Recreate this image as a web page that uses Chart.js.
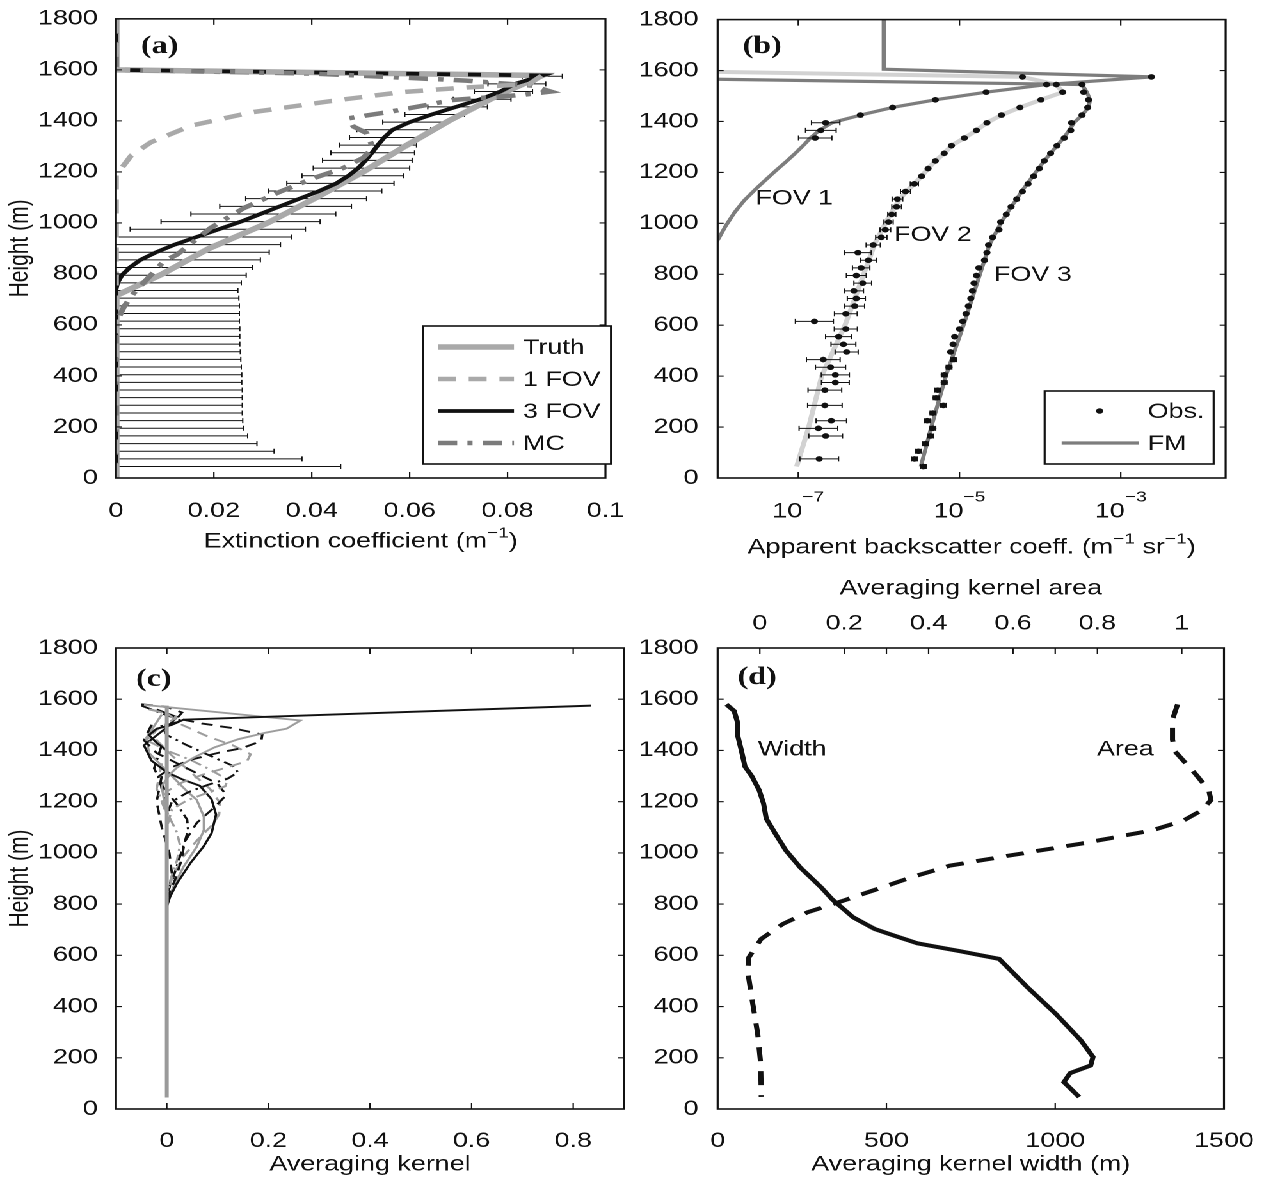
<!DOCTYPE html>
<html>
<head>
<meta charset="utf-8">
<title>Lidar retrieval figure</title>
<script src="https://cdn.jsdelivr.net/npm/chart.js@4.4.1/dist/chart.umd.min.js"></script>
<style>
html,body{margin:0;padding:0;background:#ffffff;}
body{width:1269px;height:1179px;overflow:hidden;position:relative;}
#stage{position:absolute;left:0;top:0;height:1179px;transform-origin:0 0;}
#stage canvas{position:absolute;}
</style>
</head>
<body>
<div id="stage"></div>
<script>
// ================= DATA =================
// shared height axis (m)
const heightTicks = [0,200,400,600,800,1000,1200,1400,1600,1800];

// ---- panel (a): extinction coefficient (1/m) ----
const extTicks = [0,0.02,0.04,0.06,0.08,0.1];
const extTickLabels = ['0','0.02','0.04','0.06','0.08','0.1'];
const seriesNamesA = ['Truth','1 FOV','3 FOV','MC'];
const truthH = [1800,1600,1578,1500,1400,1300,1200,1100,1000,900,800,722,715,0];
const truthX = [0,0,0.0871,0.078,0.068,0.059,0.0505,0.041,0.031,0.019,0.0095,0.0008,0,0];
const fov1H = [1800,1600,1578,1544,1531,1512,1479,1433,1381,1316,1264,1186,0];
const fov1X = [0,0,0.087,0.0844,0.0715,0.058,0.0444,0.0275,0.0153,0.0071,0.0031,0,0];
const fov3H = [1800,1600,1578,1545,1515,1485,1455,1425,1395,1365,1335,1305,1275,1245,1215,1185,1155,1125,1095,1065,1035,1005,975,945,915,885,855,825,795,765,740,0];
const fov3X = [0,0,0.0871,0.0815,0.0785,0.0745,0.0695,0.0645,0.0600,0.0565,0.0548,0.0535,0.0523,0.0510,0.0495,0.0475,0.0450,0.0415,0.0375,0.0335,0.0295,0.0255,0.021,0.0165,0.012,0.0082,0.005,0.0028,0.0012,0.0003,0,0];
const mcH = [1800,1600,1585,1570,1558,1538,1515,1502,1482,1457,1436,1410,1378,1352,1295,1255,1215,1175,1123,1058,980,928,876,850,726,674,635,615,0];
const mcX = [0,0,0.041,0.058,0.0715,0.0851,0.0888,0.0831,0.0688,0.062,0.056,0.0475,0.0485,0.0512,0.0525,0.0505,0.0464,0.0403,0.0336,0.0261,0.0193,0.0159,0.0125,0.0098,0.0037,0.0017,0.0007,0,0];
// 3 FOV uncertainty bars
const errH = [45,75,105,135,165,195,225,255,285,315,345,375,405,435,465,495,525,555,585,615,645,675,705,735,765,795,825,855,885,915,945,975,1005,1035,1065,1095,1125,1155,1185,1215,1245,1275,1305,1335,1365,1395,1425,1455,1485,1515,1545,1575];
const errLeft = [-0.0459,-0.038,-0.0323,-0.0288,-0.0269,-0.0261,-0.0259,-0.0258,-0.0258,-0.0258,-0.0258,-0.0257,-0.0257,-0.0256,-0.0255,-0.0254,-0.0253,-0.0253,-0.0253,-0.0252,-0.0252,-0.0252,-0.0251,-0.0249,-0.0250,-0.0242,-0.0223,-0.0195,-0.0149,-0.0096,-0.0029,0.0029,0.0092,0.0153,0.0212,0.0265,0.0311,0.0349,0.0380,0.0403,0.0422,0.0439,0.0456,0.0477,0.0492,0.0545,0.0590,0.0637,0.0689,0.0732,0.0760,0.0830];
const errRight = [0.0459,0.038,0.0323,0.0288,0.0269,0.0261,0.0259,0.0258,0.0258,0.0258,0.0258,0.0257,0.0257,0.0256,0.0255,0.0254,0.0253,0.0253,0.0253,0.0252,0.0252,0.0252,0.0251,0.0249,0.0256,0.0266,0.0279,0.0295,0.0313,0.0336,0.0359,0.0387,0.0417,0.0449,0.0481,0.0512,0.0543,0.0568,0.0588,0.0600,0.0605,0.0610,0.0614,0.0624,0.0643,0.0673,0.0712,0.0759,0.0807,0.0851,0.0878,0.0912];

// ---- panel (b): apparent backscatter, values as log10 ----
const logTicks = [1e-7,1e-5,1e-3];
const logTickExp = ['\u22127','\u22125','\u22123'];
const seriesNamesB = ['Obs.','FM'];
const fovLabelText = ['FOV 1','FOV 2','FOV 3'];
const fovLabelLog = [-7.05,-5.33,-4.09];
const fovLabelH = [1097,953,797];
const fov1ObsH = [1575,1545,1515,1485,1455,1425,1395,1365,1335];
const fov1ObsLog = [-2.62,-3.92,-4.67,-5.30,-5.83,-6.23,-6.66,-6.72,-6.79];
const fov1Err = [0,0,0,0,0,0,0.176,0.19,0.207];
const fov2ObsH = [1575,1545,1515,1485,1455,1425,1395,1365,1335,1305,1275,1245,1215,1185,1155,1125,1095,1065,1035,1005,975,945,915,885,855,825,795,765,735,705,675,645,615,585,555,525,495,465,435,405,375,345,285,225,195,165,75];
const fov2ObsLog = [-4.22,-3.80,-3.72,-3.99,-4.25,-4.48,-4.66,-4.79,-4.94,-5.10,-5.19,-5.30,-5.39,-5.47,-5.56,-5.67,-5.77,-5.78,-5.84,-5.88,-5.92,-5.97,-6.07,-6.26,-6.13,-6.22,-6.28,-6.20,-6.31,-6.28,-6.30,-6.41,-6.80,-6.41,-6.50,-6.44,-6.40,-6.69,-6.60,-6.54,-6.54,-6.67,-6.67,-6.59,-6.75,-6.66,-6.74];
const fov2Err = [0,0,0,0,0,0,0,0,0,0,0,0,0,0,0.05,0.062,0.066,0.06,0.05,0.057,0.066,0.07,0.088,0.165,0.10,0.108,0.123,0.11,0.119,0.112,0.123,0.141,0.236,0.143,0.161,0.154,0.143,0.209,0.187,0.174,0.172,0.209,0.214,0.189,0.24,0.209,0.24];
const fov3ObsH = [1545,1515,1485,1455,1425,1395,1365,1335,1305,1275,1245,1215,1185,1155,1125,1095,1065,1035,1005,975,945,915,885,855,825,795,765,735,705,675,645,615,585,555,525,495,465,435,405,375,345,315,285,255,225,195,165,135,105,75,45];
const fov3ObsLog = [-3.48,-3.46,-3.40,-3.41,-3.48,-3.61,-3.62,-3.70,-3.79,-3.87,-3.95,-4.01,-4.08,-4.15,-4.22,-4.29,-4.36,-4.42,-4.49,-4.51,-4.59,-4.64,-4.66,-4.69,-4.76,-4.79,-4.82,-4.84,-4.86,-4.89,-4.92,-4.96,-5.00,-5.06,-5.08,-5.11,-5.07,-5.13,-5.19,-5.19,-5.27,-5.29,-5.20,-5.33,-5.40,-5.33,-5.36,-5.42,-5.51,-5.56,-5.45];
const fov3Err = [0,0,0,0,0,0,0,0,0,0,0,0,0,0,0,0,0,0,0,0,0,0,0,0,0,0,0,0,0,0,0,0,0,0,0,0,0.035,0.035,0.035,0.035,0.035,0.035,0.035,0.035,0.035,0.035,0.035,0.035,0.035,0.035,0.035];
const fm1H = [1800,1605,1575,1545,1515,1485,1455,1425,1395,1365,1335,1305,1277,1245,1212,1175,1134,1090,1043,990,939,850];
const fm1Log = [-5.94,-5.94,-2.62,-3.92,-4.67,-5.30,-5.83,-6.23,-6.58,-6.74,-6.85,-6.94,-7.03,-7.14,-7.26,-7.39,-7.53,-7.67,-7.79,-7.90,-7.99,-8.2];
const fm2H = [1605,1575,1545,1515,1485,1455,1425,1395,1365,1335,1305,1275,1245,1215,1185,1155,1125,1095,1065,1035,1005,975,945,915,885,600,400,200,45];
const fm2Log = [-10,-4.22,-3.80,-3.72,-3.99,-4.25,-4.48,-4.66,-4.79,-4.94,-5.10,-5.19,-5.30,-5.39,-5.47,-5.56,-5.66,-5.74,-5.80,-5.86,-5.91,-5.96,-6.01,-6.06,-6.09,-6.42,-6.71,-6.87,-7.02];
const fm3H = [1575,1545,1515,1485,1455,1425,1395,1365,1335,1305,1275,1245,1215,1185,1155,1125,1095,1065,1035,1005,975,945,915,885,600,400,200,45];
const fm3Log = [-10,-3.48,-3.42,-3.38,-3.40,-3.48,-3.58,-3.64,-3.71,-3.79,-3.87,-3.95,-4.02,-4.09,-4.16,-4.23,-4.29,-4.36,-4.42,-4.48,-4.53,-4.58,-4.63,-4.66,-4.95,-5.17,-5.35,-5.48];

// ---- panel (c): averaging kernels, [value, height] ----
const akTicks = [0,0.2,0.4,0.6,0.8];
const akTickLabels = ['0','0.2','0.4','0.6','0.8'];
const kernelA = [[0.835,1575],[0.033,1520],[0.01,1500],[-0.02,1485],[-0.035,1460],[-0.02,1430],[0,1400],[0,790]];
const kernelB = [[-0.045,1578],[0.263,1517],[0.236,1485],[0.196,1470],[0.141,1444],[0.094,1412],[0.053,1372],[0.02,1333],[0.006,1307],[-0.01,1260],[-0.005,1200],[0,1150],[0,790]];
const kernelC = [[-0.05,1580],[0,1570],[0.03,1548],[0.02,1525],[0.07,1505],[0.13,1487],[0.188,1462],[0.186,1437],[0.15,1410],[0.1,1390],[0.05,1365],[0.01,1335],[-0.015,1300],[-0.01,1250],[0,1200],[0,790]];
const kernelD = [[-0.035,1560],[0,1545],[0.03,1500],[0.08,1455],[0.13,1420],[0.165,1385],[0.158,1358],[0.12,1335],[0.07,1305],[0.03,1275],[0,1240],[-0.01,1200],[0,1150],[0,790]];
const kernelE = [[-0.05,1575],[-0.01,1545],[0.03,1515],[-0.01,1495],[0,1460],[0.04,1420],[0.09,1375],[0.13,1340],[0.14,1315],[0.12,1290],[0.08,1265],[0.04,1235],[0.01,1200],[0,1150],[0,790]];
const kernelF = [[-0.03,1560],[0.02,1530],[-0.02,1480],[-0.04,1440],[0,1400],[0.05,1360],[0.09,1320],[0.12,1285],[0.115,1260],[0.08,1235],[0.04,1205],[0.01,1170],[0,1100],[0,790]];
const kernelG = [[-0.03,1500],[-0.045,1440],[-0.02,1390],[0.02,1350],[0.06,1310],[0.1,1270],[0.117,1226],[0.095,1180],[0.059,1117],[0.035,1043],[0.029,972],[0.016,894],[0,820],[0,790]];
const kernelH = [[-0.02,1560],[0.02,1530],[0,1490],[-0.045,1420],[-0.03,1360],[0,1315],[0.033,1285],[0.065,1262],[0.088,1210],[0.097,1150],[0.088,1076],[0.072,1024],[0.046,959],[0.02,881],[0.0065,829],[0,790]];
const kernelI = [[-0.01,1540],[-0.04,1450],[-0.035,1390],[-0.01,1340],[0.015,1290],[0.04,1240],[0.059,1207],[0.073,1141],[0.073,1089],[0.059,1024],[0.033,946],[0.013,868],[0.003,816],[0,790]];
const kernelJ = [[-0.03,1500],[-0.02,1440],[0.01,1380],[0.05,1310],[0.085,1250],[0.105,1195],[0.103,1150],[0.09,1110],[0.06,1050],[0.03,980],[0.01,900],[0,830],[0,790]];
const kernelK = [[-0.01,1420],[-0.025,1330],[-0.005,1250],[0.02,1190],[0.04,1130],[0.042,1090],[0.035,1040],[0.025,980],[0.012,900],[0,840],[0,790]];
const kernelL = [[-0.01,1350],[-0.02,1250],[0,1160],[0.02,1080],[0.026,1030],[0.02,970],[0.008,900],[0,840],[0,790]];
const kernelM = [[-0.01,1300],[-0.02,1200],[-0.01,1100],[0.005,1000],[0.01,920],[0.005,860],[0,800]];
const kernelZ = [[0,1575],[0,45]];

// ---- panel (d): kernel width (m) and area ----
const widthTicks = [0,500,1000,1500];
const widthTickLabels = ['0','500','1000','1500'];
const areaTicks = [0,0.2,0.4,0.6,0.8,1];
const areaTickLabels = ['0','0.2','0.4','0.6','0.8','1'];
const dLabelText = ['Width','Area'];
const dLabelW = [221,1208];
const dLabelH = [1402,1402];
const widthH = [1580,1554,1514,1455,1396,1337,1298,1245,1193,1134,1075,1010,944,865,819,748,703,677,647,616,586,475,371,268,203,170,140,105,47];
const widthM = [26,49,58,60,71,81,102,123,136,144,171,202,244,307,339,402,465,523,592,718,834,918,1002,1076,1112,1105,1044,1026,1071];
const areaH = [1580,1521,1442,1396,1311,1245,1206,1167,1127,1088,1036,990,950,905,871,813,768,722,664,592,540,423,293,177,47];
const areaV = [0.990,0.978,0.978,0.984,1.031,1.064,1.069,1.048,1.005,0.930,0.761,0.593,0.45,0.36,0.30,0.197,0.113,0.054,0.003,-0.026,-0.029,-0.018,-0.005,0.002,0.0034];

// ================= LAYOUT / STYLE =================
const SX = 1.28;   // horizontal stretch of the reference figure
const FONT = "'Liberation Sans', Arial, Helvetica, sans-serif";
const SERIF = "'Liberation Serif', 'Times New Roman', serif";
const FS = 21;
const INK = '#111111';
Chart.defaults.font.family = FONT;
Chart.defaults.font.size = FS;
Chart.defaults.color = INK;

const stage = document.getElementById('stage');
stage.style.width = (1269 / SX) + 'px';
stage.style.transform = 'scaleX(' + SX + ')';

const GEO = {
  a: {x:0,   y:0,   w:640, h:580, L:116, R:624,  T:17,  B:478},
  b: {x:625, y:0,   w:644, h:580, L:718, R:1226, T:17,  B:478},
  c: {x:0,   y:570, w:640, h:609, L:116, R:624,  T:648, B:1109},
  d: {x:625, y:570, w:644, h:609, L:718, R:1226, T:648, B:1109}
};
function setup(g, topAxis) {
  const cw = Math.round(g.w / SX);
  return { cw, ch: g.h, yW: (g.L - g.x) / SX, padR: cw - (g.R - g.x) / SX,
           padT: topAxis ? 0 : g.T - g.y, topH: g.T - g.y, botH: g.y + g.h - g.B };
}
function mk(id, g, s) {
  const c = document.createElement('canvas');
  c.id = id; c.width = s.cw; c.height = s.ch;
  c.style.left = (g.x / SX) + 'px'; c.style.top = g.y + 'px';
  c.style.width = s.cw + 'px'; c.style.height = s.ch + 'px';
  stage.appendChild(c);
  return c;
}
const xy = (xs, hs) => xs.map((x, i) => ({x: x, y: hs[i]}));
const xyLog = (ls, hs) => ls.map((l, i) => ({x: Math.pow(10, l), y: hs[i]}));
const xyPairs = (p) => p.map(q => ({x: q[0], y: q[1]}));

function yScale(s, title, pad) {
  return { type:'linear', min:0, max:1800, position:'left',
    afterBuildTicks: sc => { sc.ticks = heightTicks.map(v => ({value:v})); },
    afterFit: sc => { sc.width = s.yW; },
    grid:{display:false}, border:{display:false},
    ticks:{padding:pad, autoSkip:false, color:INK, font:{size:FS, family:FONT}, callback: v => String(v)},
    title:{display:title, text:'Height (m)', color:INK, font:{size:FS, family:FONT}, padding:{top:3, bottom:0}} };
}
function xScale(o) {
  return { type:o.type || 'linear', min:o.min, max:o.max, position:o.position || 'bottom',
    afterBuildTicks: sc => { sc.ticks = o.ticks.map(v => ({value:v})); },
    afterFit: sc => { sc.height = o.height; },
    grid:{display:false}, border:{display:false},
    ticks:{display:!!o.labels, padding:o.pad || 0, autoSkip:false, maxRotation:0, minRotation:0,
           color:INK, font:{size:FS, family:FONT}, callback: (v, i) => o.labels ? o.labels[i] : ''},
    title:{display:!!o.title, text:o.title || '', color:INK, font:{size:FS, family:FONT}, padding:o.titlePad || 0} };
}
function baseOpts(s, scales) {
  return { responsive:false, animation:false, devicePixelRatio:2,
    layout:{padding:{left:0, right:s.padR, top:s.padT, bottom:0}},
    plugins:{legend:{display:false}, tooltip:{enabled:false}},
    events:[], scales: scales };
}
function rich(ctx, segs, cx, cy, size, raise) {
  const sup = Math.round(size * 0.72);
  const ws = segs.map(s => { ctx.font = (s[1] ? sup : size) + 'px ' + FONT; return ctx.measureText(s[0]).width; });
  const tot = ws.reduce((a, b) => a + b, 0);
  let x = cx - tot / 2;
  const base = cy + size * 0.36;
  ctx.textAlign = 'left'; ctx.textBaseline = 'alphabetic'; ctx.fillStyle = INK;
  segs.forEach((s, i) => {
    ctx.font = (s[1] ? sup : size) + 'px ' + FONT;
    ctx.fillText(s[0], x, s[1] ? base - raise : base);
    x += ws[i];
  });
}
function frame(chart, ctx, xs, ys) {
  const a = chart.chartArea;
  ctx.strokeStyle = INK; ctx.setLineDash([]);
  ctx.lineWidth = 1.6;
  ctx.strokeRect(a.left, a.top, a.right - a.left, a.bottom - a.top);
  ctx.lineWidth = 1.1;
  ctx.beginPath();
  xs.forEach(s => { const sc = chart.scales[s.id]; s.v.forEach(v => { const p = sc.getPixelForValue(v);
    if (s.b) { ctx.moveTo(p, a.bottom); ctx.lineTo(p, a.bottom - 6); }
    if (s.t) { ctx.moveTo(p, a.top); ctx.lineTo(p, a.top + 6); } }); });
  ys.forEach(s => { const sc = chart.scales[s.id]; s.v.forEach(v => { const p = sc.getPixelForValue(v);
    ctx.moveTo(a.left, p); ctx.lineTo(a.left + 6 / SX, p);
    ctx.moveTo(a.right, p); ctx.lineTo(a.right - 6 / SX, p); }); });
  ctx.stroke();
}
function errBars(chart, ctx, hs, lo, hi) {
  const xs = chart.scales.x, ys = chart.scales.y, a = chart.chartArea;
  ctx.save();
  ctx.beginPath(); ctx.rect(a.left, a.top, a.right - a.left, a.bottom - a.top); ctx.clip();
  ctx.strokeStyle = INK; ctx.lineWidth = 1; ctx.setLineDash([]);
  ctx.beginPath();
  hs.forEach((h, i) => {
    if (!(hi[i] > lo[i])) return;
    const y = ys.getPixelForValue(h), x1 = xs.getPixelForValue(lo[i]), x2 = xs.getPixelForValue(hi[i]);
    ctx.moveTo(x1, y); ctx.lineTo(x2, y);
    ctx.moveTo(x1, y - 2.5); ctx.lineTo(x1, y + 2.5);
    ctx.moveTo(x2, y - 2.5); ctx.lineTo(x2, y + 2.5);
  });
  ctx.stroke(); ctx.restore();
}
function panelLabel(ctx, g, txt, X, Y) {
  ctx.font = 'bold 25px ' + SERIF; ctx.fillStyle = INK;
  ctx.textAlign = 'left'; ctx.textBaseline = 'alphabetic';
  ctx.fillText(txt, (X - g.x) / SX, Y - g.y);
}
const hTickVals = heightTicks.slice(1, -1);

// ================= PANEL (a) =================
const gA = GEO.a, sA = setup(gA, false);
const styleA = [
  {c:'#a9a9a9', w:5.5, d:[]},
  {c:'#a9a9a9', w:4.5, d:[14,10]},
  {c:INK,      w:3.8, d:[]},
  {c:'#7b7b7b', w:4.5, d:[15,8,4,8]}
];
new Chart(mk('ca', gA, sA), {
  type:'scatter',
  data:{datasets:[
    {label:seriesNamesA[1], data:xy(fov1X, fov1H), showLine:true, borderColor:styleA[1].c, borderWidth:styleA[1].w, borderDash:styleA[1].d, pointRadius:0, order:1},
    {label:seriesNamesA[3], data:xy(mcX, mcH), showLine:true, borderColor:styleA[3].c, borderWidth:styleA[3].w, borderDash:styleA[3].d, pointRadius:0, order:2},
    {label:seriesNamesA[2], data:xy(fov3X, fov3H), showLine:true, borderColor:styleA[2].c, borderWidth:styleA[2].w, pointRadius:0, order:3},
    {label:seriesNamesA[0], data:xy(truthX, truthH), showLine:true, borderColor:styleA[0].c, borderWidth:styleA[0].w, pointRadius:0, order:4}
  ]},
  options: baseOpts(sA, {
    x: xScale({min:0, max:0.1, ticks:extTicks, labels:extTickLabels, pad:12.4, height:sA.botH}),
    y: yScale(sA, true, 6.25)
  }),
  plugins:[{id:'decoA',
    beforeDatasetsDraw(chart){ errBars(chart, chart.ctx, errH, errLeft, errRight); },
    afterDraw(chart){
      const ctx = chart.ctx, g = gA, a = chart.chartArea;
      ctx.save();
      frame(chart, ctx, [{id:'x', v:extTicks.slice(1,-1), b:1, t:1}], [{id:'y', v:hTickVals}]);
      // legend
      const P = X => (X - g.x) / SX;
      ctx.fillStyle = '#fff'; ctx.fillRect(P(423), 326, P(611) - P(423), 138);
      ctx.strokeStyle = INK; ctx.lineWidth = 1.6; ctx.setLineDash([]);
      ctx.strokeRect(P(423), 326, P(611) - P(423), 138);
      const ly = [347, 379, 411, 443];
      seriesNamesA.forEach((n, i) => {
        const st = styleA[i];
        ctx.beginPath(); ctx.strokeStyle = st.c; ctx.lineWidth = st.w; ctx.setLineDash(st.d);
        ctx.moveTo(P(438), ly[i]); ctx.lineTo(P(514), ly[i]); ctx.stroke();
        ctx.setLineDash([]);
        ctx.fillStyle = INK; ctx.font = FS + 'px ' + FONT; ctx.textAlign = 'left'; ctx.textBaseline = 'middle';
        ctx.fillText(n, P(523), ly[i] + 1);
      });
      panelLabel(ctx, g, '(a)', 141, 53);
      rich(ctx, [['Extinction coefficient (m',0],['\u22121',1],[')',0]], (a.left + a.right) / 2, 540, FS, 10);
      ctx.restore();
    }}]
});

// ================= PANEL (b) =================
const gB = GEO.b, sB = setup(gB, false);
new Chart(mk('cb', gB, sB), {
  type:'scatter',
  data:{datasets:[
    {label:'FOV 1 obs', data:xyLog(fov1ObsLog, fov1ObsH), pointRadius:2.8, pointBackgroundColor:INK, pointBorderWidth:0, order:0},
    {label:'FOV 2 obs', data:xyLog(fov2ObsLog, fov2ObsH), pointRadius:2.8, pointBackgroundColor:INK, pointBorderWidth:0, order:0},
    {label:'FOV 3 obs', data:xyLog(fov3ObsLog, fov3ObsH), pointRadius:2.8, pointBackgroundColor:INK, pointBorderWidth:0, order:0},
    {label:'FOV 3 FM', data:xyLog(fm3Log, fm3H), showLine:true, borderColor:'#7d7d7d', borderWidth:3.2, pointRadius:0, order:3},
    {label:'FOV 2 FM', data:xyLog(fm2Log, fm2H), showLine:true, borderColor:'#d2d2d2', borderWidth:4, pointRadius:0, order:4},
    {label:'FOV 1 FM', data:xyLog(fm1Log, fm1H), showLine:true, borderColor:'#7d7d7d', borderWidth:3.2, pointRadius:0, order:5}
  ]},
  options: baseOpts(sB, {
    x: xScale({type:'logarithmic', min:1e-8, max:2e-2, ticks:logTicks, labels:null, height:sB.botH}),
    y: yScale(sB, false, 7)
  }),
  plugins:[{id:'decoB',
    afterDatasetsDraw(chart){
      const ctx = chart.ctx;
      [[fov1ObsH, fov1ObsLog, fov1Err],[fov2ObsH, fov2ObsLog, fov2Err],[fov3ObsH, fov3ObsLog, fov3Err]].forEach(s => {
        errBars(chart, ctx, s[0], s[1].map((l, i) => Math.pow(10, l - s[2][i])), s[1].map((l, i) => Math.pow(10, l + s[2][i])));
      });
    },
    afterDraw(chart){
      const ctx = chart.ctx, g = gB, a = chart.chartArea, xs = chart.scales.x, ys = chart.scales.y;
      const P = X => (X - g.x) / SX;
      ctx.save();
      frame(chart, ctx, [{id:'x', v:logTicks, b:1, t:1}], [{id:'y', v:hTickVals}]);
      logTicks.forEach((v, i) => rich(ctx, [['10',0],[logTickExp[i],1]], xs.getPixelForValue(v), 510, FS, 16));
      rich(ctx, [['Apparent backscatter coeff. (m',0],['\u22121',1],[' sr',0],['\u22121',1],[')',0]], (a.left + a.right) / 2, 546, FS, 10);
      // curve labels
      ctx.fillStyle = INK; ctx.font = FS + 'px ' + FONT; ctx.textAlign = 'center'; ctx.textBaseline = 'middle';
      fovLabelText.forEach((t, i) => ctx.fillText(t, xs.getPixelForValue(Math.pow(10, fovLabelLog[i])), ys.getPixelForValue(fovLabelH[i])));
      // legend
      ctx.fillStyle = '#fff'; ctx.fillRect(P(1045), 391, P(1214) - P(1045), 73);
      ctx.strokeStyle = INK; ctx.lineWidth = 1.6; ctx.strokeRect(P(1045), 391, P(1214) - P(1045), 73);
      ctx.fillStyle = INK; ctx.beginPath(); ctx.ellipse(P(1100), 411, 2.8, 2.8, 0, 0, Math.PI * 2); ctx.fill();
      ctx.beginPath(); ctx.strokeStyle = '#7d7d7d'; ctx.lineWidth = 3.2; ctx.moveTo(P(1062), 443); ctx.lineTo(P(1139), 443); ctx.stroke();
      ctx.fillStyle = INK; ctx.font = FS + 'px ' + FONT; ctx.textAlign = 'left'; ctx.textBaseline = 'middle';
      ctx.fillText(seriesNamesB[0], P(1148), 412);
      ctx.fillText(seriesNamesB[1], P(1148), 444);
      panelLabel(ctx, g, '(b)', 743, 53);
      ctx.restore();
    }}]
});

// ================= PANEL (c) =================
const gC = GEO.c, sC = setup(gC, false);
const BLK = INK, GRY = '#9d9d9d', DASH = [9,6], DDOT = [9,4,2,4];
const kernelSet = [kernelA, kernelB, kernelC, kernelD, kernelE, kernelF, kernelG, kernelH, kernelI, kernelJ, kernelK, kernelL, kernelM];
const kernelStyle = [[BLK,[]],[GRY,[]],[BLK,DASH],[GRY,DASH],[BLK,DDOT],[GRY,DDOT],[BLK,DASH],[BLK,[]],[GRY,[]],[GRY,DASH],[BLK,DDOT],[GRY,DDOT],[BLK,DASH]];
const dsC = kernelSet.map((k, i) => ({data:xyPairs(k), showLine:true, borderColor:kernelStyle[i][0], borderDash:kernelStyle[i][1], borderWidth:1.9, pointRadius:0, order:i + 2}));
dsC.push({data:xyPairs(kernelZ), showLine:true, borderColor:'#9a9a9a', borderWidth:3, pointRadius:0, order:0});
new Chart(mk('cc', gC, sC), {
  type:'scatter',
  data:{datasets:dsC},
  options: baseOpts(sC, {
    x: xScale({min:-0.1, max:0.9, ticks:akTicks, labels:akTickLabels, pad:11.4, height:sC.botH, title:'Averaging kernel', titlePad:{top:0, bottom:1.5}}),
    y: yScale(sC, true, 6.25)
  }),
  plugins:[{id:'decoC', afterDraw(chart){
    const ctx = chart.ctx; ctx.save();
    frame(chart, ctx, [{id:'x', v:akTicks, b:1, t:1}], [{id:'y', v:hTickVals}]);
    panelLabel(ctx, gC, '(c)', 136, 686);
    ctx.restore();
  }}]
});

// ================= PANEL (d) =================
const gD = GEO.d, sD = setup(gD, true);
new Chart(mk('cd', gD, sD), {
  type:'scatter',
  data:{datasets:[
    {label:'Width', data:xy(widthM, widthH), xAxisID:'x', showLine:true, borderColor:INK, borderWidth:4, pointRadius:0, order:1},
    {label:'Area', data:xy(areaV, areaH), xAxisID:'x2', showLine:true, borderColor:INK, borderWidth:4, borderDash:[14,10], pointRadius:0, order:2}
  ]},
  options: baseOpts(sD, {
    x: xScale({min:0, max:1500, ticks:widthTicks, labels:widthTickLabels, pad:11.4, height:sD.botH, title:'Averaging kernel width (m)', titlePad:{top:0, bottom:1.5}}),
    x2: xScale({min:-0.1, max:1.1, position:'top', ticks:areaTicks, labels:areaTickLabels, pad:3.7, height:sD.topH, title:'Averaging kernel area', titlePad:{top:5.9, bottom:0}}),
    y: yScale(sD, false, 7)
  }),
  plugins:[{id:'decoD', afterDraw(chart){
    const ctx = chart.ctx, xs = chart.scales.x, ys = chart.scales.y; ctx.save();
    frame(chart, ctx, [{id:'x', v:[500,1000], b:1, t:1}, {id:'x2', v:areaTicks, b:0, t:1}], [{id:'y', v:hTickVals}]);
    ctx.fillStyle = INK; ctx.font = FS + 'px ' + FONT; ctx.textAlign = 'center'; ctx.textBaseline = 'middle';
    dLabelText.forEach((t, i) => ctx.fillText(t, xs.getPixelForValue(dLabelW[i]), ys.getPixelForValue(dLabelH[i])));
    panelLabel(ctx, gD, '(d)', 738, 684);
    ctx.restore();
  }}]
});
</script>
</body>
</html>
